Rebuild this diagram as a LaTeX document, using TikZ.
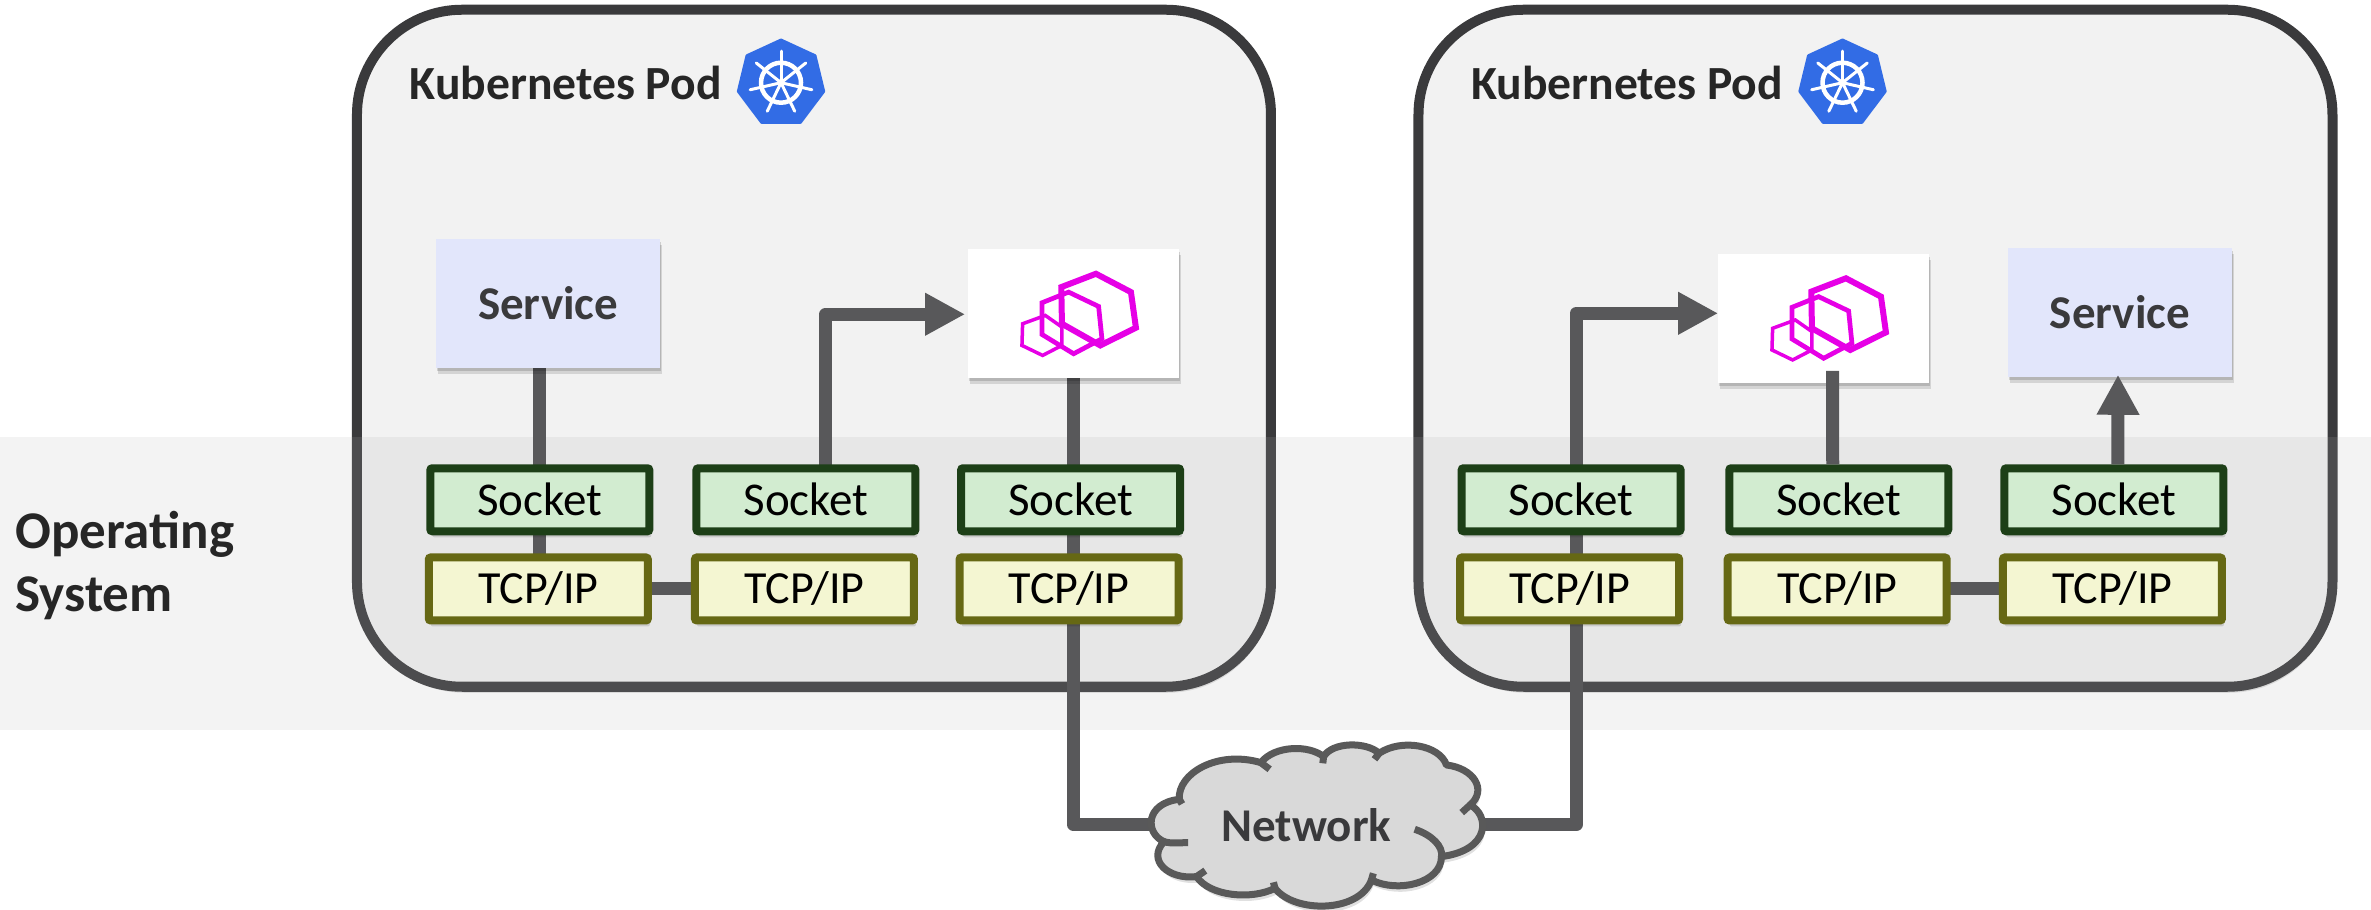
\documentclass[tikz,border=0pt]{standalone}
\usepackage{fontspec}
\setmainfont{Carlito}
\usetikzlibrary{arrows.meta,shadows,calc}
\pgfdeclarelayer{pods}
\pgfdeclarelayer{conn}
\pgfsetlayers{pods,conn,main}
\definecolor{poddark}{HTML}{3A3A3C}
\definecolor{podfill}{HTML}{F2F2F2}
\definecolor{bandgray}{HTML}{B2B2B2}
\definecolor{connc}{HTML}{58585A}
\definecolor{svcfill}{HTML}{E2E6FB}
\definecolor{sockfill}{HTML}{D2ECD0}
\definecolor{sockline}{HTML}{1D3F17}
\definecolor{tcpfill}{HTML}{F4F6D2}
\definecolor{tcpline}{HTML}{666814}
\definecolor{k8sblue}{HTML}{326CE5}
\definecolor{envoyc}{HTML}{E600E6}
\definecolor{cloudfill}{HTML}{D9D9D9}
\definecolor{cloudline}{HTML}{595959}
\tikzset{
  softshadow/.style={drop shadow={shadow xshift=1pt,shadow yshift=-3pt,opacity=.14,fill=black},
                     drop shadow={shadow xshift=2pt,shadow yshift=-6pt,opacity=.12,fill=black}},
  podbox/.style={draw=poddark,fill=podfill,line width=10pt,rounded corners=105pt,minimum width=914pt,minimum height=677pt,inner sep=0pt,outer sep=0pt,softshadow},
  bandbox/.style={fill=bandgray,fill opacity=.157,minimum width=2371pt,minimum height=293pt,inner sep=0pt,outer sep=0pt},
  socketbox/.style={draw=sockline,fill=sockfill,line width=8pt,rounded corners=2pt,minimum width=219pt,minimum height=63pt,inner sep=0pt,outer sep=0pt,softshadow,font=\fontsize{47}{56}\selectfont,text=black},
  tcpbox/.style={draw=tcpline,fill=tcpfill,line width=8pt,rounded corners=2pt,minimum width=219pt,minimum height=63pt,inner sep=0pt,outer sep=0pt,softshadow,font=\fontsize{46}{56}\selectfont,text=black},
  svcbox/.style={fill=svcfill,minimum width=224pt,minimum height=129pt,inner sep=0pt,outer sep=0pt,softshadow,font=\bfseries\fontsize{47}{56}\selectfont,text=poddark},
  envoybox/.style={fill=white,minimum width=211pt,minimum height=129pt,inner sep=0pt,outer sep=0pt,softshadow},
  podlabel/.style={font=\bfseries\fontsize{47.6}{56}\selectfont,text=black!85,inner sep=0pt},
  oslabel/.style={font=\bfseries\fontsize{53}{63}\selectfont,text=black!85,inner sep=0pt,align=left},
  netlabel/.style={font=\bfseries\fontsize{47}{56}\selectfont,text=poddark,inner sep=0pt,minimum width=160pt},
  wire/.style={draw=connc,line width=13pt,line join=round},
  wirearrow/.style={wire,-{Triangle[length=40pt,width=40pt]}},
}
\newcommand{\helmicon}[1]{%
  \begin{scope}[shift={(#1)},x=.3333pt,y=-.3333pt]
    \fill[k8sblue,draw=k8sblue,line width=3pt,line join=round] (0,-128)--(102,-81)--(128,26)--(58,119)--(-58,119)--(-128,26)--(-102,-81)--cycle;
    \draw[white,line width=4.5pt] (0,0) circle (60);
    \fill[white] (0,0) circle (11);
    \foreach \a in {90,38.57,-12.86,-64.29,-115.71,-167.14,141.43}
      \draw[white,line width=3pt,line cap=round] (0,0) -- ({95*cos(\a)},{-95*sin(\a)});
  \end{scope}}
\newcommand{\envoylogo}[1]{%
  \begin{scope}[shift={(#1)},x=.3333pt,y=-.3333pt,draw=envoyc,line join=miter]
    \draw[line width=3.5pt] (-153,30)--(-85,5)--(-35,40)--(-35,95)--(-93,125)--(-155,95)--cycle;
    \draw[line width=4.7pt] (-95,-33)--(-15,-65)--(75,-22)--(85,75)--(0,120)--(-95,62)--cycle;
    \draw[line width=6pt] (-37,-80)--(67,-120)--(172,-65)--(187,42)--(80,95)--(-35,30)--cycle;
  \end{scope}}
\begin{document}
\begin{tikzpicture}[x=1.5121pt,y=-1.5121pt]
\useasboundingbox (0,0) rectangle (1568,601.8);
% boxes
\node[svcbox] (svcL) at (362.5,200.5) {Service};
\node[envoybox] (envL) at (710,207.5) {};
\node[envoybox] (envR) at (1206,210.5) {};
\node[svcbox] (svcR) at (1402,206.5) {Service};
\node[socketbox] (sL1) at (357,330.5) {Socket};
\node[socketbox] (sL2) at (533,330.5) {Socket};
\node[socketbox] (sL3) at (708,330.5) {Socket};
\node[tcpbox] (tL1) at (356,389.5) {TCP/IP};
\node[tcpbox] (tL2) at (532,389.5) {TCP/IP};
\node[tcpbox] (tL3) at (707,389.5) {TCP/IP};
\node[socketbox] (sR1) at (1039,330.5) {Socket};
\node[socketbox] (sR2) at (1216,330.5) {Socket};
\node[socketbox] (sR3) at (1398,330.5) {Socket};
\node[tcpbox] (tR1) at (1038,389.5) {TCP/IP};
\node[tcpbox] (tR2) at (1215,389.5) {TCP/IP};
\node[tcpbox] (tR3) at (1397,389.5) {TCP/IP};
\node[podlabel] (lblL) at (374,55) {Kubernetes Pod};
\node[podlabel] (lblR) at (1076,55) {Kubernetes Pod};
\node[oslabel,anchor=west] (os) at (10,374) {Operating\\System};
\helmicon{516.5,54.7}
\helmicon{1218.5,54.7}
\envoylogo{envL.center}
\envoylogo{envR.center}
% connectors lying over the upper boxes
\draw[wire] ([xshift=-6pt,yshift=4pt]sR2.north) -- ([xshift=9pt,yshift=12pt]envR.south);
\draw[wirearrow] ([xshift=4pt,yshift=4pt]sR3.north) -- ([xshift=-2pt,yshift=2pt]svcR.south);
% pods and band
\begin{pgfonlayer}{pods}
  \node[podbox] (podL) at (538.3,230.3) {};
  \node[podbox] (podR) at (1240.3,230.3) {};
  \node[bandbox] (band) at (784,386) {};
\end{pgfonlayer}
% cloud
\begin{scope}[shift={(681.2,462.9)},x=.3827pt,y=-.3333pt]
  \path[fill=cloudfill,draw=cloudline,line width=7pt,line join=round,softshadow]
    (350,425) .. controls (300,400) and (300,310) .. (390,298)
    .. controls (385,220) and (490,150) .. (603,188)
    .. controls (640,135) and (730,135) .. (767,170)
    .. controls (790,125) and (880,125) .. (912,160)
    .. controls (970,115) and (1070,135) .. (1088,195)
    .. controls (1160,205) and (1195,270) .. (1150,315)
    .. controls (1200,345) and (1205,450) .. (1075,470)
    .. controls (1075,550) and (960,580) .. (892,540)
    .. controls (860,640) and (690,640) .. (640,565)
    .. controls (580,600) and (470,590) .. (435,530)
    .. controls (360,540) and (305,480) .. (350,425) -- cycle;
  \draw[cloudline,line width=7pt] (350,425) .. controls (370,432) and (390,428) .. (413,428);
  \draw[cloudline,line width=7pt] (390,298) -- (397,312);
  \draw[cloudline,line width=7pt] (603,188) -- (626,208);
  \draw[cloudline,line width=7pt] (767,170) -- (765,190);
  \draw[cloudline,line width=7pt] (912,160) -- (900,178);
  \draw[cloudline,line width=7pt] (1150,315) -- (1128,338);
  \draw[cloudline,line width=7pt] (1075,470) .. controls (1080,440) and (1050,405) .. (1005,388);
  \draw[cloudline,line width=7pt] (892,540) -- (897,520);
  \draw[cloudline,line width=7pt] (640,565) -- (636,547);
  \draw[cloudline,line width=7pt] (435,530) -- (458,512);
\end{scope}
\node[netlabel] (net) at (864,545.5) {Network};
% connectors
\begin{pgfonlayer}{conn}
  \draw[wire] (sL1 |- svcL.south) -- (tL1.north -| sL1);
  \draw[wire] (tL1.east) -- (tL2.west);
  \draw[wirearrow] ([xshift=19.5pt]sL2.south) |- ([yshift=-0.5pt,xshift=-3pt]envL.west);
  \draw[wire] (envL.south) |- (net.west);
  \draw[wirearrow] (net.east) -| ([xshift=5pt]sR1.south) |- ([yshift=5pt]envR.west);
  \draw[wire] (tR2.east) -- (tR3.west);
\end{pgfonlayer}
\end{tikzpicture}
\end{document}
